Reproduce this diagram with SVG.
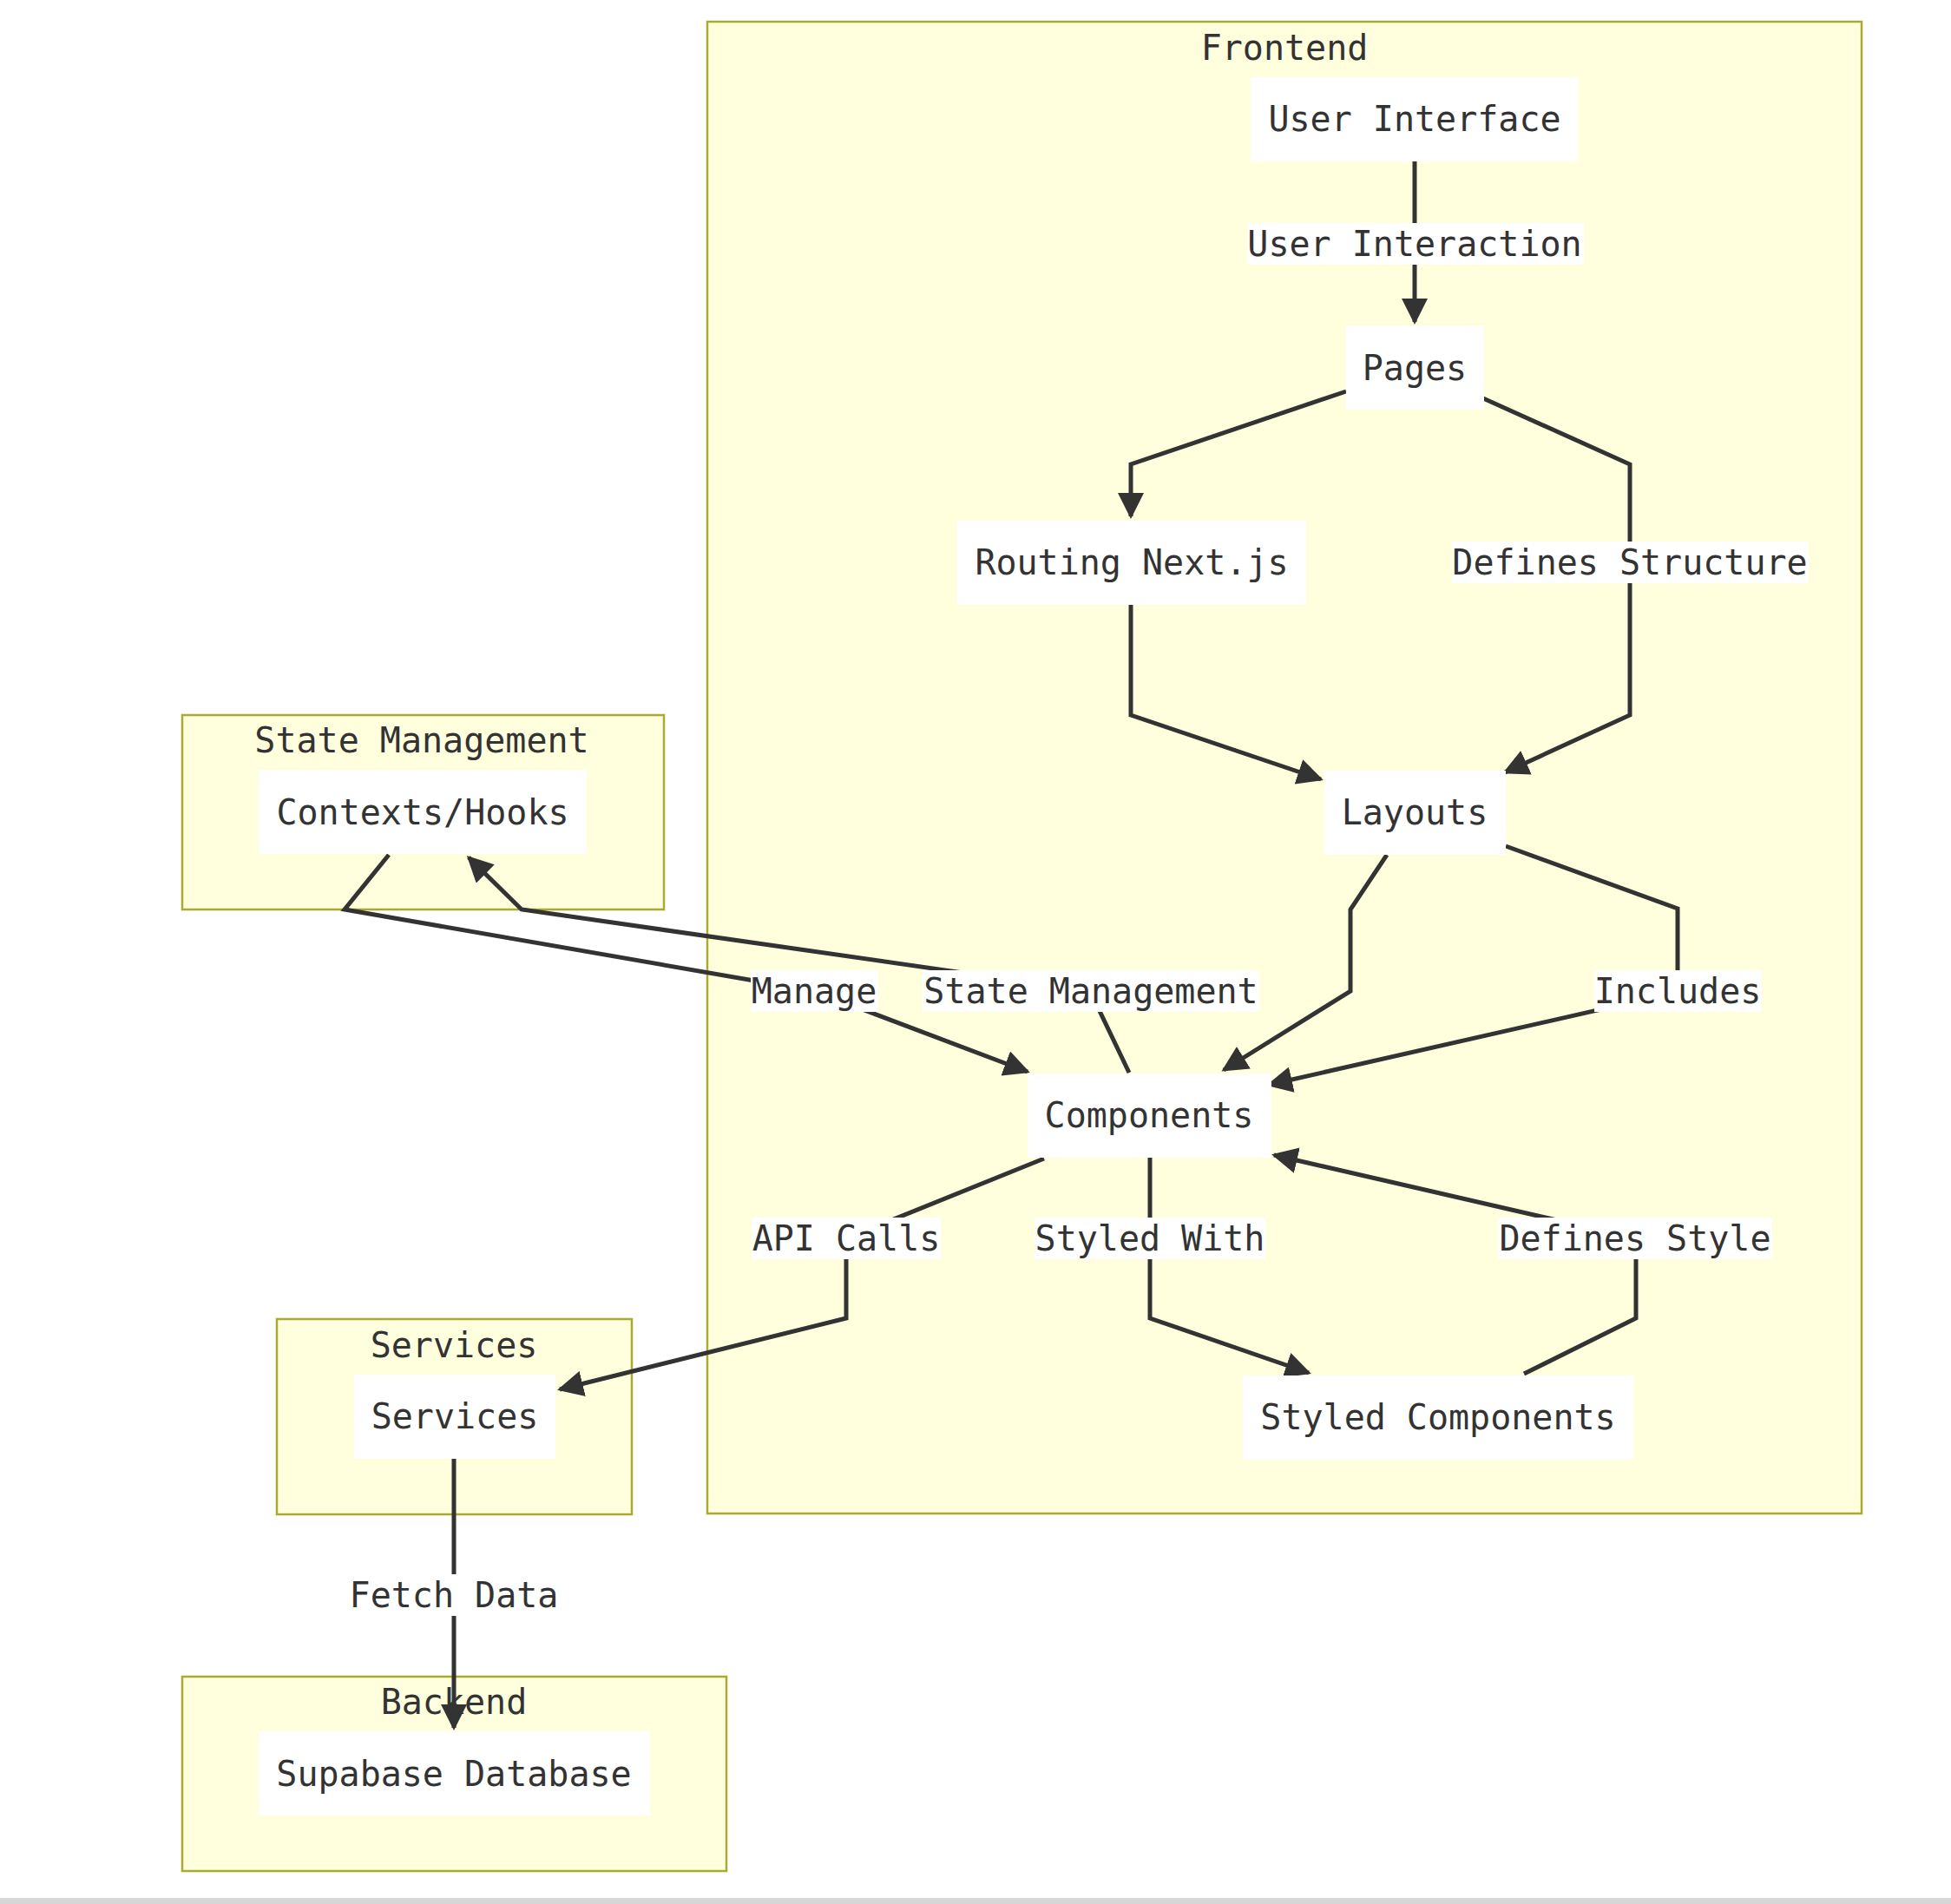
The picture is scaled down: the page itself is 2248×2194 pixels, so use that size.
<svg xmlns="http://www.w3.org/2000/svg" width="2248" height="2194" viewBox="0 0 2248 2194">
<style>
.cluster{fill:#ffffde;stroke:#aaaa33;stroke-width:2.5}
.node rect{fill:#ffffff;stroke:none}
.t{font-family:"DejaVu Sans Mono","Liberation Mono",monospace;font-size:40px;fill:#333333;text-anchor:middle}
.edge{fill:none;stroke:#333333;stroke-width:5}
.lbg{fill:#ffffff}
</style>
<defs>
<marker id="arr" viewBox="0 0 10 10" refX="9" refY="5" markerWidth="30" markerHeight="30" markerUnits="userSpaceOnUse" orient="auto">
<path d="M0,0 L10,5 L0,10 z" fill="#333333"/>
</marker>
</defs>
<rect x="0" y="0" width="2248" height="2194" fill="#ffffff"/>
<g id="clusters">
<g id="cluster-frontend"><rect class="cluster" x="815" y="25" width="1330" height="1719"/><text class="t" x="1480" y="69">Frontend</text></g>
<g id="cluster-state"><rect class="cluster" x="210" y="824" width="555" height="224"/><text class="t" x="486" y="867">State Management</text></g>
<g id="cluster-services"><rect class="cluster" x="319" y="1520" width="409" height="225"/><text class="t" x="523" y="1564">Services</text></g>
<g id="cluster-backend"><rect class="cluster" x="210" y="1932" width="627" height="224"/><text class="t" x="523" y="1975">Backend</text></g>
</g>
<g id="connectors">
<polyline class="edge" points="1630,186 1630,371" marker-end="url(#arr)"/>
<polyline class="edge" points="1551,451 1303,535 1303,595" marker-end="url(#arr)"/>
<polyline class="edge" points="1709,459 1878,535 1878,824 1734,890" marker-end="url(#arr)"/>
<polyline class="edge" points="1303,697 1303,824 1522,898" marker-end="url(#arr)"/>
<polyline class="edge" points="1598,985 1556,1048 1556,1142 1410,1233" marker-end="url(#arr)"/>
<polyline class="edge" points="1735,975 1933,1047 1933,1143 1462,1250" marker-end="url(#arr)"/>
<polyline class="edge" points="448,985 397,1048 938,1142 1184,1235" marker-end="url(#arr)"/>
<polyline class="edge" points="1301,1236 1256,1142 601,1048 540,988" marker-end="url(#arr)"/>
<polyline class="edge" points="1203,1335 975,1427 975,1519 645,1601" marker-end="url(#arr)"/>
<polyline class="edge" points="1325,1333 1325,1519 1508,1582" marker-end="url(#arr)"/>
<polyline class="edge" points="1756,1583 1885,1519 1885,1427 1468,1331" marker-end="url(#arr)"/>
<polyline class="edge" points="523,1681 523,1991" marker-end="url(#arr)"/>
</g>
<g id="edge-labels">
<g><rect class="lbg" x="1437" y="257" width="388" height="48"/><text class="t" x="1630" y="295">User Interaction</text></g>
<g><rect class="lbg" x="1673" y="624" width="411" height="48"/><text class="t" x="1878" y="662">Defines Structure</text></g>
<g><rect class="lbg" x="865" y="1118" width="147" height="48"/><text class="t" x="938" y="1156">Manage</text></g>
<g><rect class="lbg" x="1063" y="1118" width="388" height="48"/><text class="t" x="1257" y="1156">State Management</text></g>
<g><rect class="lbg" x="1837" y="1118" width="193" height="48"/><text class="t" x="1933" y="1156">Includes</text></g>
<g><rect class="lbg" x="866" y="1403" width="218" height="48"/><text class="t" x="975" y="1441">API Calls</text></g>
<g><rect class="lbg" x="1192" y="1403" width="266" height="48"/><text class="t" x="1325" y="1441">Styled With</text></g>
<g><rect class="lbg" x="1726" y="1403" width="316" height="48"/><text class="t" x="1884" y="1441">Defines Style</text></g>
<g><rect class="lbg" x="402" y="1814" width="243" height="48"/><text class="t" x="523" y="1852">Fetch Data</text></g>
</g>
<g id="node-ui" class="node"><rect x="1441" y="89" width="377" height="97"/><text class="t" x="1630" y="151">User Interface</text></g>
<g id="node-pages" class="node"><rect x="1551" y="375" width="159" height="97"/><text class="t" x="1630" y="438">Pages</text></g>
<g id="node-routing" class="node"><rect x="1103" y="600" width="402" height="97"/><text class="t" x="1304" y="662">Routing Next.js</text></g>
<g id="node-layouts" class="node"><rect x="1526" y="888" width="209" height="97"/><text class="t" x="1630" y="950">Layouts</text></g>
<g id="node-components" class="node"><rect x="1184" y="1237" width="281" height="97"/><text class="t" x="1324" y="1299">Components</text></g>
<g id="node-styled" class="node"><rect x="1432" y="1585" width="450" height="97"/><text class="t" x="1657" y="1647">Styled Components</text></g>
<g id="node-contexts" class="node"><rect x="298" y="887" width="378" height="97"/><text class="t" x="487" y="950">Contexts/Hooks</text></g>
<g id="node-services" class="node"><rect x="408" y="1584" width="232" height="97"/><text class="t" x="524" y="1646">Services</text></g>
<g id="node-supabase" class="node"><rect x="298" y="1995" width="451" height="97"/><text class="t" x="523" y="2058">Supabase Database</text></g>
<rect x="0" y="2187" width="2248" height="7" fill="#d6d6d6"/>
</svg>
